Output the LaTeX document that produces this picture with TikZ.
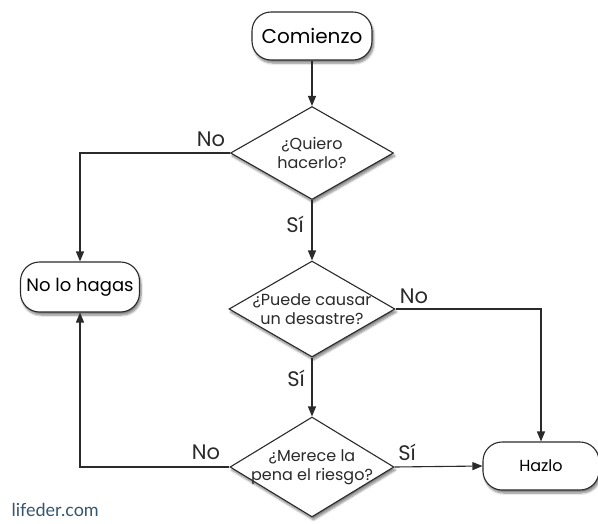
\documentclass[tikz,border=0pt]{standalone}
\usepackage{fontspec}
\setmainfont{Poppins}
\newfontfamily\sitefont{Lato}
\usetikzlibrary{shapes.geometric,arrows.meta,shadows.blur}
\definecolor{ln}{HTML}{2A2A2A}
\definecolor{site}{HTML}{36566F}
\tikzset{
  pill/.style={draw=ln, line width=1.1pt, fill=white, rounded corners=19pt,
    minimum height=48pt, inner sep=0pt,
    blur shadow={shadow xshift=1.5pt, shadow yshift=-3pt, shadow opacity=50, shadow blur steps=6}},
  dec/.style={draw=ln, line width=1.1pt, fill=white, shape=diamond, inner sep=0pt,
    blur shadow={shadow xshift=1.5pt, shadow yshift=-3pt, shadow opacity=50, shadow blur steps=6}},
  dtxt/.style={align=center, font=\fontsize{16}{19}\selectfont, text=ln},
  lab/.style={font=\fontsize{21}{24}\selectfont, text=ln},
  conn/.style={draw=ln, line width=1.1pt},
  arr/.style={conn, -{Triangle[length=10pt,width=8pt]}}
}
\begin{document}
\begin{tikzpicture}[x=1pt,y=-1pt]
\useasboundingbox (0,0) rectangle (598,523);
\node[pill, minimum width=120pt, font=\fontsize{20}{24}\selectfont] (c0) at (312,36) {Comienzo};
\node[dec, minimum width=163pt, minimum height=93pt] (d1) at (312,153) {};
\node[dtxt] (t1) at (d1.center) {¿Quiero\\hacerlo?};
\node[dec, minimum width=166pt, minimum height=96pt] (d2) at (312,309) {};
\node[dtxt] (t2) at (d2.center) {¿Puede causar\\un desastre?};
\node[dec, minimum width=164pt, minimum height=100pt] (d3) at (312,467) {};
\node[dtxt] (t3) at (d3.center) {¿Merece la\\pena el riesgo?};
\node[pill, minimum width=119pt, minimum height=50pt, font=\fontsize{18}{22}\selectfont] (nl) at (80,287) {No lo hagas};
\node[pill, minimum width=116pt, font=\fontsize{16}{20}\selectfont] (hz) at (541,466) {Hazlo};

\draw[arr] (c0) -- (d1.north);
\draw[arr] (d1.west) -| (nl.north);
\draw[arr] (d1.south) -- (d2.north);
\draw[arr] (d2.east) -| (hz.north);
\draw[arr] (d2.south) -- (d3.north);
\draw[arr] (d3.east) -- (hz.west);
\draw[arr] (d3.west) -| (nl.south);

\node[lab] (l1) at (211,139) {No};
\node[lab] (l2) at (295,224) {Sí};
\node[lab] (l3) at (414,296) {No};
\node[lab] (l4) at (296,378) {Sí};
\node[lab] (l5) at (206,452) {No};
\node[lab] (l6) at (407,452) {Sí};
\node[anchor=west, text=site, font=\sitefont\fontsize{18}{21}\selectfont] (site) at (8,510) {lifeder.com};
\end{tikzpicture}
\end{document}
